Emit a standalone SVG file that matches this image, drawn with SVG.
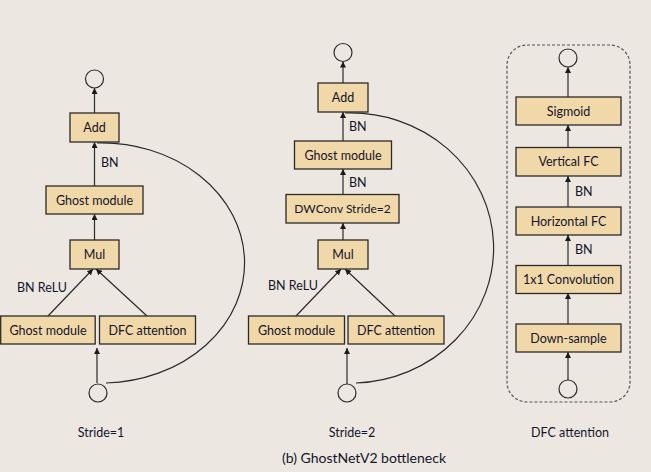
<svg xmlns="http://www.w3.org/2000/svg" width="651" height="472" viewBox="0 0 651 472">
<defs>
<style>
.bg{fill:#ece8e1}
.box{fill:#f0d8a8;stroke:#2a2a2a;stroke-width:1.3}
.cir{fill:none;stroke:#2a2a2a;stroke-width:1.2}
.t{font-family:Lato,"Liberation Sans",sans-serif;font-size:12.5px;fill:#14142a;text-anchor:middle}
.l{font-family:Lato,"Liberation Sans",sans-serif;font-size:12.5px;fill:#14142a}
.e{fill:none;stroke:#2a2a2a;stroke-width:1.2}
.a{fill:none;stroke:#2a2a2a;stroke-width:1.2;marker-end:url(#ah)}
.dash{fill:none;stroke:#555;stroke-width:1.2;stroke-dasharray:3,2}
</style>
<marker id="ah" viewBox="0 0 10 10" refX="10" refY="5" markerWidth="6" markerHeight="6" markerUnits="userSpaceOnUse" orient="auto">
<path d="M0,0 L10,5 L0,10 z" fill="#1a1a1a"/>
</marker>
</defs>
<rect class="bg" x="0" y="0" width="651" height="472"/>

<g id="connectors">
<!-- left -->
<line class="a" x1="94.5" y1="113" x2="94.5" y2="88"/>
<line class="a" x1="94.5" y1="186" x2="94.5" y2="142"/>
<line class="a" x1="94.5" y1="240" x2="94.5" y2="214"/>
<line class="a" x1="48" y1="316" x2="93" y2="269"/>
<line class="a" x1="147" y1="316" x2="96" y2="269"/>
<line class="a" x1="97" y1="383" x2="97" y2="348"/>
<path class="e" d="M97,143 A143,120 0 0 1 106,383"/>
<!-- middle -->
<line class="a" x1="343" y1="83" x2="343" y2="61.5"/>
<line class="a" x1="343" y1="141" x2="343" y2="112"/>
<line class="a" x1="343" y1="194" x2="343" y2="169"/>
<line class="a" x1="343" y1="240" x2="343" y2="223"/>
<line class="a" x1="296" y1="316" x2="341" y2="269"/>
<line class="a" x1="395" y1="316" x2="345" y2="269"/>
<line class="a" x1="347" y1="384" x2="347" y2="348"/>
<path class="e" d="M345,113 A143,135 0 0 1 356,383"/>
<!-- right -->
<line class="a" x1="568" y1="97" x2="568" y2="67"/>
<line class="a" x1="568" y1="147" x2="568" y2="125"/>
<line class="a" x1="568" y1="207" x2="568" y2="176"/>
<line class="a" x1="568" y1="266" x2="568" y2="235"/>
<line class="a" x1="568" y1="324" x2="568" y2="293"/>
<line class="a" x1="568" y1="380" x2="568" y2="352"/>
</g>

<g id="labels">
<text class="l" x="101" y="167">BN</text>
<text class="l" x="17" y="292">BN ReLU</text>
<text class="l" x="349" y="131">BN</text>
<text class="l" x="349" y="187">BN</text>
<text class="l" x="268" y="290">BN ReLU</text>
<text class="l" x="575" y="196">BN</text>
<text class="l" x="575" y="254">BN</text>
<text class="t" x="101" y="437">Stride=1</text>
<text class="t" x="352" y="437">Stride=2</text>
<text class="t" x="570" y="437">DFC attention</text>
<text class="t" x="364" y="463" style="font-size:14px">(b) GhostNetV2 bottleneck</text>
</g>

<!-- Left: Stride=1 -->
<g id="s1-out"><circle class="cir" cx="94.5" cy="79" r="9"/></g>
<g id="s1-add"><rect class="box" x="70" y="113" width="49" height="29"/><text class="t" x="94.5" y="132">Add</text></g>
<g id="s1-ghost2"><rect class="box" x="46" y="186" width="97" height="28"/><text class="t" x="94.5" y="204.5">Ghost module</text></g>
<g id="s1-mul"><rect class="box" x="70" y="240" width="49" height="29"/><text class="t" x="94.5" y="259">Mul</text></g>
<g id="s1-ghost1"><rect class="box" x="0.7" y="316" width="94.5" height="28"/><text class="t" x="48" y="334.5">Ghost module</text></g>
<g id="s1-dfc"><rect class="box" x="99.5" y="316" width="96" height="28"/><text class="t" x="147.5" y="334.5">DFC attention</text></g>
<g id="s1-in"><circle class="cir" cx="98" cy="393" r="9"/></g>

<!-- Middle: Stride=2 -->
<g id="s2-out"><circle class="cir" cx="343" cy="52.5" r="9"/></g>
<g id="s2-add"><rect class="box" x="318" y="83" width="50" height="29"/><text class="t" x="343" y="102">Add</text></g>
<g id="s2-ghost2"><rect class="box" x="294.5" y="141" width="97" height="28"/><text class="t" x="343" y="159.5">Ghost module</text></g>
<g id="s2-dw"><rect class="box" x="286" y="194.5" width="113" height="28.5"/><text class="t" x="342.5" y="213" style="font-size:12px">DWConv Stride=2</text></g>
<g id="s2-mul"><rect class="box" x="318" y="240" width="50" height="29"/><text class="t" x="343" y="259">Mul</text></g>
<g id="s2-ghost1"><rect class="box" x="248.5" y="316" width="96" height="28"/><text class="t" x="296.5" y="334.5">Ghost module</text></g>
<g id="s2-dfc"><rect class="box" x="348" y="316" width="96" height="28"/><text class="t" x="396" y="334.5">DFC attention</text></g>
<g id="s2-in"><circle class="cir" cx="347" cy="393" r="9"/></g>

<!-- Right: DFC attention -->
<g id="dfc-frame"><rect class="dash" x="507" y="45" width="123" height="357" rx="20" ry="20"/></g>
<g id="dfc-out"><circle class="cir" cx="568" cy="58" r="9"/></g>
<g id="dfc-sig"><rect class="box" x="516" y="97" width="105" height="28"/><text class="t" x="568.5" y="115.5">Sigmoid</text></g>
<g id="dfc-vfc"><rect class="box" x="516" y="147.5" width="105" height="28.5"/><text class="t" x="568.5" y="166">Vertical FC</text></g>
<g id="dfc-hfc"><rect class="box" x="516" y="207" width="105" height="28"/><text class="t" x="568.5" y="225.5">Horizontal FC</text></g>
<g id="dfc-conv"><rect class="box" x="516" y="265.5" width="105" height="28"/><text class="t" x="568.5" y="284">1x1 Convolution</text></g>
<g id="dfc-down"><rect class="box" x="516" y="324" width="105" height="28"/><text class="t" x="568.5" y="342.5">Down-sample</text></g>
<g id="dfc-in"><circle class="cir" cx="568" cy="389" r="9"/></g>
</svg>
